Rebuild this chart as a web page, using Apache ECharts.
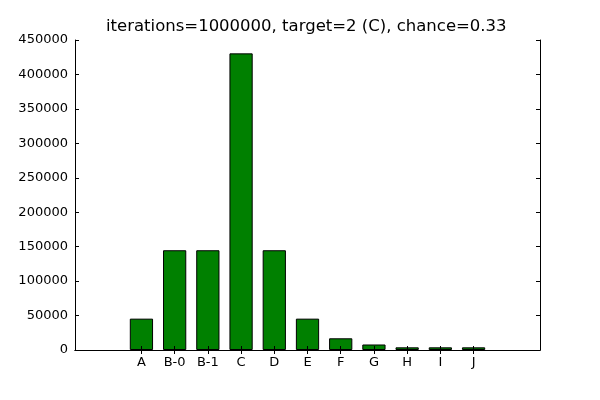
<!DOCTYPE html>
<html>
<head>
<meta charset="utf-8">
<script src="https://cdn.jsdelivr.net/npm/echarts@6/dist/echarts.min.js"></script>
<style>html,body{margin:0;padding:0;background:#fff}#chart{width:600px;height:400px}</style>
</head>
<body>
<div id="chart"></div>
<script>
const categories = ['A', 'B-0', 'B-1', 'C', 'D', 'E', 'F', 'G', 'H', 'I', 'J'];
const counts = [45500, 144800, 144800, 430600, 144800, 45500, 17000, 8000, 3900, 3900, 3900];
const yTicks = [0, 50000, 100000, 150000, 200000, 250000, 300000, 350000, 400000, 450000];
const titleText = 'iterations=1000000, target=2 (C), chance=0.33';

// padding slots: axis spans from two slots before A to two slots after J
const padLeft = ['_l0', '_l1'];
const padRight = ['_r0', '_r1'];
const axisCats = padLeft.concat(categories, padRight);
const seriesData = axisCats.map(c => {
  const i = categories.indexOf(c);
  return i >= 0 ? counts[i] : null;
});
const isPad = v => String(v).charAt(0) === '_';
const font = 'DejaVu Sans';

const xBase = {
  type: 'category',
  data: axisCats,
  boundaryGap: false,
  z: 10,
  axisLine: {lineStyle: {color: '#000', width: 1}},
  axisTick: {inside: true, length: 4, lineStyle: {color: '#000'}, interval: (i, v) => !isPad(v)},
  splitLine: {show: false}
};
const yBase = {
  type: 'value',
  min: yTicks[0],
  max: yTicks[yTicks.length - 1],
  interval: yTicks[1] - yTicks[0],
  z: 10,
  axisLine: {show: true, lineStyle: {color: '#000', width: 1}},
  axisTick: {show: true, inside: true, length: 4, lineStyle: {color: '#000'}},
  splitLine: {show: false}
};

const chart = echarts.init(document.getElementById('chart'));
chart.setOption({
  animation: false,
  backgroundColor: '#fff',
  title: {
    text: titleText,
    left: 101,
    top: 13,
    textStyle: {fontFamily: font, fontSize: 16.5, fontWeight: 'normal', color: '#000'}
  },
  grid: {left: 75, right: 60, top: 40, bottom: 50},
  xAxis: [
    Object.assign({}, xBase, {
      position: 'bottom',
      axisLabel: {interval: 0, margin: 6, fontFamily: font, fontSize: 13, color: '#000',
        formatter: v => isPad(v) ? '' : v}
    }),
    Object.assign({}, xBase, {position: 'top', axisLabel: {show: false}})
  ],
  yAxis: [
    Object.assign({}, yBase, {
      position: 'left',
      axisLabel: {margin: 7, fontFamily: font, fontSize: 13, color: '#000',
        formatter: v => String(v)}
    }),
    Object.assign({}, yBase, {position: 'right', axisLabel: {show: false}})
  ],
  series: [{
    type: 'bar',
    data: seriesData,
    barWidth: '70%',
    itemStyle: {color: '#008000', borderColor: '#000', borderWidth: 1}
  }]
});
</script>
</body>
</html>
